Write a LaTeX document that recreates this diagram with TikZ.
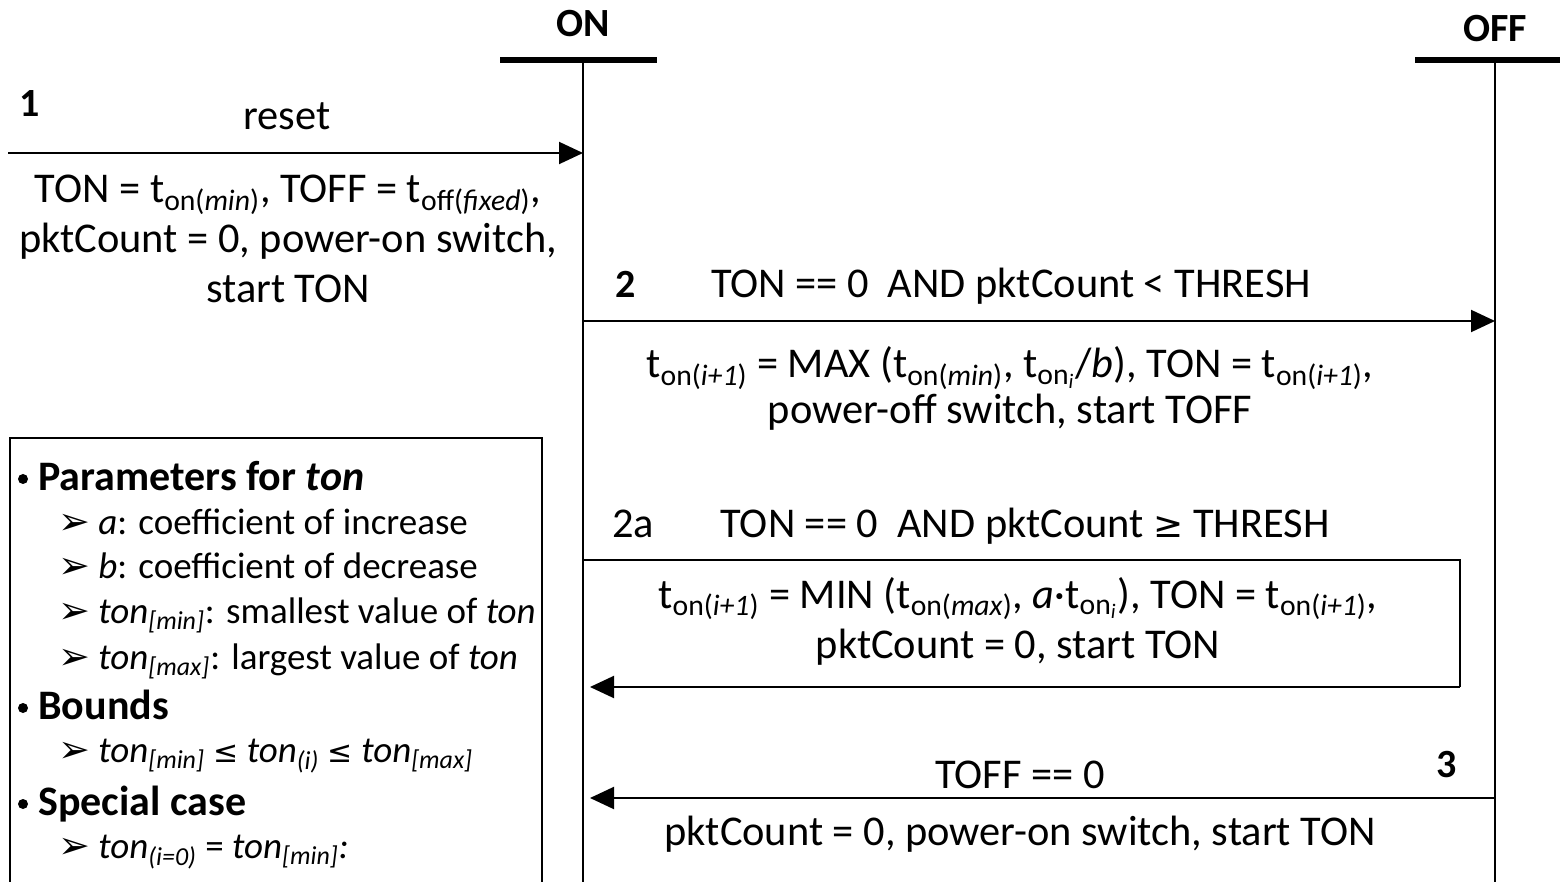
\documentclass[tikz,border=0pt]{standalone}
\usepackage{fontspec}
\setmainfont{Carlito}
\newfontfamily\dv{DejaVu Sans}
\usetikzlibrary{arrows.meta}
\newcommand\lo[1]{\textsubscript{#1}}
\begin{document}
\begin{tikzpicture}[x=0.5pt,y=-0.5pt,
  lbl/.style={anchor=base,inner sep=0pt,font=\fontsize{21.2}{25}\selectfont},
  num/.style={anchor=base,inner sep=0pt,font=\fontsize{20}{24}\selectfont\bfseries},
  msg/.style={line width=1pt,-{Triangle[length=12pt,width=11pt]}},
  life/.style={line width=1.2pt},
  head/.style={line width=3pt},
  leg/.style={anchor=base west,inner sep=0pt,font=\fontsize{18.5}{22}\selectfont},
  legh/.style={anchor=base west,inner sep=0pt,font=\fontsize{21}{25}\selectfont\bfseries},
  dot/.style={circle,fill=black,inner sep=0pt,minimum size=5pt},
  tip/.style={anchor=base west,inner sep=0pt,font=\fontsize{19}{22}\dv},
  frame/.style={line width=1pt},
]
\useasboundingbox (0,0) rectangle (1560,882);
% lifelines
\coordinate (onT) at (583,60); \coordinate (onB) at (583,882);
\coordinate (offT) at (1495,60); \coordinate (offB) at (1495,882);
\coordinate (onL) at (500,60); \coordinate (onR) at (657,60);
\coordinate (offL) at (1415,60); \coordinate (offR) at (1560,60);
\node[num] (ON) at (583,37) {ON};
\node[num] (OFF) at (1495,42) {OFF};
\draw[head] (onL) -- (onR);
\draw[head] (offL) -- (offR);
\draw[life] (onT) -- (onB);
\draw[life] (offT) -- (offB);
% message 1
\coordinate (m1s) at (8,153); \coordinate (m1e) at (583,153);
\draw[msg] (m1s) -- (m1e);
\node[num] (n1) at (30,117) {1};
\node[lbl] (reset) at (287,130) {reset};
\node[lbl] (a1) at (288,203) {TON = t\lo{on(\textit{min})}, TOFF = t\lo{off(\textit{fixed})},};
\node[lbl] (a2) at (288,253) {pktCount = 0, power-on switch,};
\node[lbl] (a3) at (288,303) {start TON};
% message 2
\coordinate (m2s) at (583,321); \coordinate (m2e) at (1495,321);
\draw[msg] (m2s) -- (m2e);
\node[num] (n2) at (626,298) {2};
\node[lbl] (g2) at (1011,298) {TON == 0\ \ AND pktCount < THRESH};
\node[lbl] (b1) at (1010,378) {t\lo{on(\textit{i+1})} = MAX (t\lo{on(\textit{min})}, t\lo{on\textsubscript{\textit{i}}}/\textit{b}), TON = t\lo{on(\textit{i+1})},};
\node[lbl] (b2) at (1010,424) {power-off switch, start TOFF};
% message 2a
\node[lbl] (n2a) at (633,538) {2a};
\node[lbl] (g2a) at (1025,538) {TON == 0\ \ AND pktCount {\dv\fontsize{18}{22}\selectfont≥} THRESH};
\coordinate (m2as) at (583,560); \coordinate (m2ac1) at (1460,560);
\coordinate (m2ac2) at (1460,687); \coordinate (m2ae) at (590,687);
\draw[frame] (m2as) -- (m2ac1) -- (m2ac2);
\draw[msg] (m2ac2) -- (m2ae);
\node[lbl] (c1) at (1018,608) {t\lo{on(\textit{i+1})} = MIN (t\lo{on(\textit{max})}, \textit{a}·t\lo{on\textsubscript{\textit{i}}}), TON = t\lo{on(\textit{i+1})},};
\node[lbl] (c2) at (1018,658) {pktCount = 0, start TON};
% message 3
\coordinate (m3s) at (1495,798); \coordinate (m3e) at (590,798);
\draw[msg] (m3s) -- (m3e);
\node[num] (n3) at (1447,777) {3};
\node[lbl] (g3) at (1020,788) {TOFF == 0};
\node[lbl] (d1) at (1020,845) {pktCount = 0, power-on switch, start TON};
% legend
\coordinate (lgA) at (10,890); \coordinate (lgB) at (10,438);
\coordinate (lgC) at (542,438); \coordinate (lgD) at (542,890);
\draw[frame] (lgA) -- (lgB) -- (lgC) -- (lgD);
\node[dot] (d1b) at (23,479) {};
\node[legh] (h1) at (38,490) {Parameters for \textit{ton}};
\node[tip] (t1) at (58,535) {➢};
\node[leg] (l1) at (98,535) {\textit{a}: coefficient of increase};
\node[tip] (t2) at (58,578) {➢};
\node[leg] (l2) at (98,578) {\textit{b}: coefficient of decrease};
\node[tip] (t3) at (58,623) {➢};
\node[leg] (l3) at (98,623) {\textit{ton}\lo{\textit{[min]}}: smallest value of \textit{ton}};
\node[tip] (t4) at (58,669) {➢};
\node[leg] (l4) at (98,669) {\textit{ton}\lo{\textit{[max]}}: largest value of \textit{ton}};
\node[dot] (d2b) at (23,708) {};
\node[legh] (h2) at (38,719) {Bounds};
\node[tip] (t5) at (58,762) {➢};
\node[leg] (l5) at (98,762) {\textit{ton}\lo{\textit{[min]}} {\dv\fontsize{15}{18}\selectfont≤} \textit{ton}\lo{\textit{(i)}} {\dv\fontsize{15}{18}\selectfont≤} \textit{ton}\lo{\textit{[max]}}};
\node[dot] (d3b) at (23,804) {};
\node[legh] (h3) at (38,815) {Special case};
\node[tip] (t6) at (58,858) {➢};
\node[leg] (l6) at (98,858) {\textit{ton}\lo{\textit{(i=0)}} = \textit{ton}\lo{\textit{[min]}}\textit{:}};
\end{tikzpicture}
\end{document}
